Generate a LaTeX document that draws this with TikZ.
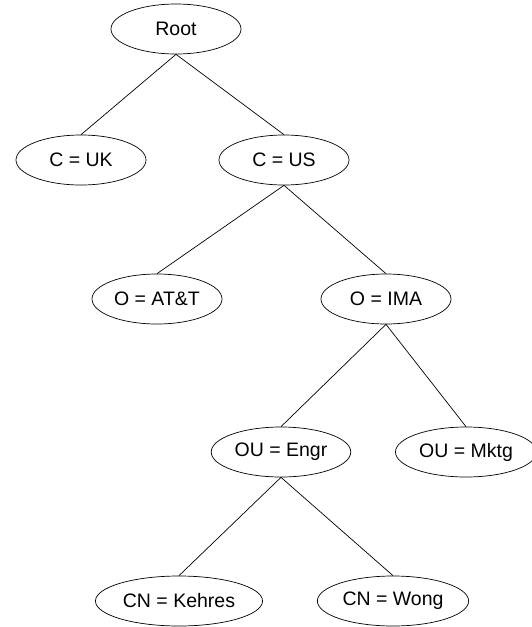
\documentclass[tikz,border=0pt]{standalone}
\usepackage{fontspec}
\setmainfont{Liberation Sans}
\usepackage{tikz}
\usetikzlibrary{shapes.geometric}

\tikzset{
	dn/.style={draw, ellipse, line width=0.7pt, inner xsep=3pt, inner ysep=0pt,
		minimum width=130pt, minimum height=50pt, font=\fontsize{19.5}{22}\selectfont},
	edge/.style={line width=0.7pt}
}

\begin{document}
\begin{tikzpicture}[x=1pt, y=-1pt]
		\def \ya {29}
		\def \yb {160}
		\def \yc {299}
		\def \yd {452}
		\def \ye {601}

		\useasboundingbox (0,0) rectangle (531,627);

		\node[dn] (root) at (176,\ya) {Root};
		\node[dn] (cuk) at (81,\yb) {C = UK};
		\node[dn] (cus) at (284,\yb) {C = US};
		\node[dn] (oatt) at (157,\yc) {O = AT\&T};
		\node[dn] (oima) at (386,\yc) {O = IMA};
		\node[dn] (ouengr) at (281,\yd) {OU = Engr};
		\node[dn] (oumktg) at (466,\yd) {OU = Mktg};
		\node[dn] (cnkehres) at (179,\ye) {CN = Kehres};
		\node[dn] (cnwong) at (393,\ye) {CN = Wong};

		\draw[edge] (root.south) -- (cuk.north);
		\draw[edge] (root.south) -- (cus.north);
		\draw[edge] (cus.south) -- (oatt.north);
		\draw[edge] (cus.south) -- (oima.north);
		\draw[edge] (oima.south) -- (ouengr.north);
		\draw[edge] (oima.south) -- (oumktg.north);
		\draw[edge] (ouengr.south) -- (cnkehres.north);
		\draw[edge] (ouengr.south) -- (cnwong.north);
	\end{tikzpicture}
\end{document}
